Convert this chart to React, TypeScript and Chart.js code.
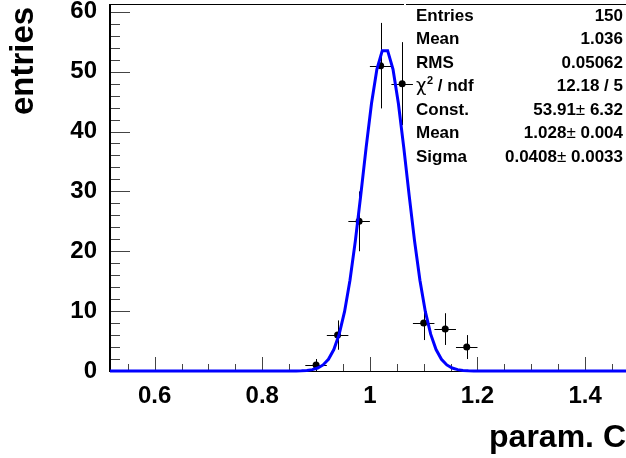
import React, { useEffect, useRef } from 'react';
import { Chart, registerables } from 'chart.js';

Chart.register(...registerables);

// ---- data ----
const binCenters = [0.9, 0.94, 0.98, 1.02, 1.06, 1.1, 1.14, 1.18];
const binCounts = [1, 6, 25, 51, 48, 8, 7, 4];
const binErrors = [1.0, 2.45, 5.0, 7.14, 6.93, 2.83, 2.65, 2.0];
const binHalfWidth = 0.02;

// Gaussian fit parameters (from the stats box)
const fitConst = 53.91;
const fitMean = 1.028;
const fitSigma = 0.0408;
const fitStep = 0.01;

const statLabels = ['Entries', 'Mean', 'RMS', 'chi2', 'Const.', 'Mean', 'Sigma'];
const statValues = ['150', '1.036', '0.05062', '12.18 / 5', '53.91|6.32', '1.028|0.004', '0.0408|0.0033'];

const xTitle = 'param. C';
const yTitle = 'entries';

const X_MIN = 0.517;
const X_MAX = 1.476;
const Y_MIN = 0;
const Y_MAX = 61.3;

const FONT = "'Liberation Sans', Arial, sans-serif";

function fitCurve() {
  const pts: { x: number; y: number }[] = [];
  const start = fitMean - fitStep / 2 - Math.ceil((fitMean - X_MIN) / fitStep) * fitStep;
  for (let x = start; x <= X_MAX + fitStep; x += fitStep) {
    const xx = Math.min(Math.max(x, X_MIN), X_MAX);
    const z = (xx - fitMean) / fitSigma;
    pts.push({ x: xx, y: fitConst * Math.exp(-0.5 * z * z) });
  }
  return pts;
}

const zeroPad = (s: any) => {
  s.paddingTop = 0;
  s.paddingBottom = 0;
  s.paddingLeft = 0;
  s.paddingRight = 0;
};

const rootPlugin = {
  id: 'rootStyle',
  beforeDatasetsDraw(chart: any) {
    const { ctx, chartArea, scales } = chart;
    const x = scales.x;
    const y = scales.y;
    ctx.save();
    // frame: left axis
    ctx.strokeStyle = '#000';
    ctx.lineWidth = 2;
    ctx.beginPath();
    ctx.moveTo(chartArea.left, chartArea.top);
    ctx.lineTo(chartArea.left, chartArea.bottom + 1);
    ctx.stroke();
    // bottom axis
    ctx.lineWidth = 1;
    ctx.beginPath();
    ctx.moveTo(chartArea.left, chartArea.bottom + 0.5);
    ctx.lineTo(chartArea.right, chartArea.bottom + 0.5);
    ctx.stroke();
    // top frame line and stats box line
    ctx.beginPath();
    ctx.moveTo(chartArea.left, chartArea.top + 0.5);
    ctx.lineTo(404, chartArea.top + 0.5);
    ctx.moveTo(406, chartArea.top + 0.5);
    ctx.lineTo(chartArea.right, chartArea.top + 0.5);
    ctx.stroke();

    // y ticks (inward)
    ctx.strokeStyle = '#444';
    ctx.lineWidth = 1;
    ctx.beginPath();
    for (let v = Y_MIN; v <= Y_MAX + 1e-9; v += 2) {
      const py = Math.round(y.getPixelForValue(v)) + 0.5;
      const major = Math.abs(v % 10) < 1e-9;
      ctx.moveTo(chartArea.left + 1, py);
      ctx.lineTo(chartArea.left + (major ? 20 : 10), py);
    }
    // x ticks (inward)
    const first = Math.ceil(X_MIN / 0.05) * 0.05;
    for (let v = first; v <= X_MAX + 1e-9; v += 0.05) {
      const px = Math.round(x.getPixelForValue(v)) + 0.5;
      const k = Math.round(v / 0.05);
      const major = k % 4 === 0;
      ctx.moveTo(px, chartArea.bottom);
      ctx.lineTo(px, chartArea.bottom - (major ? 14 : 7));
    }
    ctx.stroke();

    // error bars
    ctx.strokeStyle = '#000';
    ctx.lineWidth = 1;
    ctx.beginPath();
    binCenters.forEach((c, i) => {
      const px = Math.round(x.getPixelForValue(c)) + 0.5;
      const py = Math.round(y.getPixelForValue(binCounts[i])) + 0.5;
      const xl = x.getPixelForValue(c - binHalfWidth);
      const xr = x.getPixelForValue(c + binHalfWidth);
      const yt = y.getPixelForValue(binCounts[i] + binErrors[i]);
      const yb = y.getPixelForValue(Math.max(0, binCounts[i] - binErrors[i]));
      ctx.moveTo(xl, py);
      ctx.lineTo(xr, py);
      ctx.moveTo(px, yt);
      ctx.lineTo(px, yb);
    });
    ctx.stroke();
    ctx.restore();
  },
  afterDraw(chart: any) {
    const { ctx } = chart;
    ctx.save();
    ctx.fillStyle = '#000';
    // axis titles
    ctx.font = `bold 32px ${FONT}`;
    ctx.textAlign = 'right';
    ctx.textBaseline = 'alphabetic';
    ctx.fillText(xTitle, 626, 447);
    ctx.save();
    ctx.translate(33, 115);
    ctx.rotate(-Math.PI / 2);
    ctx.font = `bold 33px ${FONT}`;
    ctx.textAlign = 'left';
    ctx.fillText(yTitle, 0, 0);
    ctx.restore();

    // stats box
    const lx = 416;
    const rx = 623;
    const bold = `bold 17px ${FONT}`;
    statLabels.forEach((lab, i) => {
      const by = 20.7 + i * 23.5;
      ctx.textAlign = 'left';
      if (lab === 'chi2') {
        ctx.font = `18px 'DejaVu Sans', sans-serif`;
        ctx.fillText('\u03c7', lx, by);
        let cx = lx + ctx.measureText('\u03c7').width + 0.5;
        ctx.font = `bold 11px ${FONT}`;
        ctx.fillText('2', cx, by - 7);
        cx += ctx.measureText('2').width;
        ctx.font = bold;
        ctx.fillText(' / ndf', cx, by);
      } else {
        ctx.font = bold;
        ctx.fillText(lab, lx, by);
      }
      const val = statValues[i];
      ctx.textAlign = 'right';
      if (val.includes('|')) {
        const [a, b] = val.split('|');
        ctx.font = bold;
        const right = ' ' + b;
        ctx.fillText(right, rx, by);
        let cx = rx - ctx.measureText(right).width;
        ctx.font = `17px ${FONT}`;
        ctx.fillText('\u00b1', cx, by);
        cx -= ctx.measureText('\u00b1').width;
        ctx.font = bold;
        ctx.fillText(a, cx, by);
      } else {
        ctx.font = bold;
        ctx.fillText(val, rx, by);
      }
    });
    ctx.restore();
  },
};

export default function App() {
  const canvasRef = useRef<HTMLCanvasElement | null>(null);

  useEffect(() => {
    const canvas = canvasRef.current;
    if (!canvas) return;
    const points = binCenters.map((c, i) => ({ x: c, y: binCounts[i] }));
    const chart = new Chart(canvas, {
      type: 'scatter',
      data: {
        datasets: [
          {
            label: 'fit',
            data: fitCurve(),
            showLine: true,
            borderColor: '#0000ff',
            borderWidth: 3,
            pointRadius: 0,
            tension: 0,
            fill: false,
            order: 0,
            clip: false as any,
          },
          {
            label: 'hist',
            data: points,
            pointRadius: 3.5,
            pointBackgroundColor: '#000',
            pointBorderWidth: 0,
            borderColor: '#000',
            showLine: false,
            order: 1,
          },
        ],
      },
      options: {
        animation: false,
        responsive: false,
        devicePixelRatio: 1,
        layout: { autoPadding: false, padding: { top: 4, right: 0, left: 0, bottom: 0 } },
        plugins: { legend: { display: false }, tooltip: { enabled: false }, title: { display: false } },
        scales: {
          x: {
            type: 'linear',
            min: X_MIN,
            max: X_MAX,
            grid: { display: false, drawTicks: false },
            border: { display: false },
            ticks: {
              stepSize: 0.2,
              includeBounds: false,
              padding: 11,
              color: '#000',
              font: { family: FONT, size: 24, weight: 'bold' },
              maxRotation: 0,
              callback: (v: any) => String(Number(Number(v).toFixed(2))),
            },
            afterFit: (s: any) => {
              s.height = 87;
              zeroPad(s);
            },
          },
          y: {
            type: 'linear',
            min: Y_MIN,
            max: Y_MAX,
            grid: { display: false, drawTicks: false },
            border: { display: false },
            ticks: {
              stepSize: 10,
              includeBounds: false,
              padding: 13,
              color: '#000',
              font: { family: FONT, size: 24, weight: 'bold' },
            },
            afterFit: (s: any) => {
              s.width = 110;
              zeroPad(s);
            },
          },
        },
      } as any,
      plugins: [rootPlugin],
    });
    return () => chart.destroy();
  }, []);

  return (
    <div style={{ position: 'fixed', left: 0, top: 0, width: 626, height: 458, background: '#fff' }}>
      <canvas ref={canvasRef} width={626} height={458} style={{ display: 'block' }} />
    </div>
  );
}
